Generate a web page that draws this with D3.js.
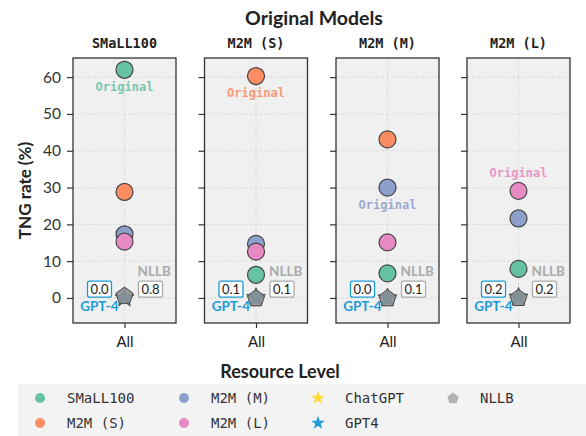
<!DOCTYPE html>
<html>
<head>
<meta charset="utf-8">
<script src="https://cdn.jsdelivr.net/npm/d3@7"></script>
<style>
  body { margin: 0; background: #fff; }
  text { font-family: Lato, "DejaVu Sans", sans-serif; }
  .mono { font-family: "DejaVu Sans Mono", monospace; }
</style>
</head>
<body>
<div id="chart"></div>
<script>
// panels (one per original model) and the series shown in each
var panels = ["SMaLL100", "M2M (S)", "M2M (M)", "M2M (L)"];
var series = ["SMaLL100", "M2M (S)", "M2M (M)", "M2M (L)"];
var seriesColors = ["#66c2a5", "#fc8d62", "#8da0cb", "#e78ac3"];

// TNG rate (%) per series, indexed by panel
var small100 = [62.0, 6.3, 6.7, 7.9];
var m2mS = [28.8, 60.3, 43.1, null];
var m2mM = [17.3, 14.7, 30.0, 21.6];
var m2mL = [15.3, 12.6, 15.1, 29.1];
var nllb = [0.8, 0.1, 0.1, 0.2];
var gpt4 = [0.0, 0.1, 0.0, 0.2];

var yTicks = [0, 10, 20, 30, 40, 50, 60];
var originalBelow = [true, true, true, false];

var seriesValues = [small100, m2mS, m2mM, m2mL];

var W = 586, H = 436;
var svg = d3.select("#chart").append("svg")
  .attr("width", W).attr("height", H);

var panelW = 103, panelTop = 58, panelBottom = 323;
var panelLeft = [73, 204.5, 336, 467];

var y = d3.scaleLinear().domain([-6.8, 65.2]).range([panelBottom, panelTop]);

// main title
svg.append("text").attr("x", 314).attr("y", 25)
  .attr("text-anchor", "middle").style("font-size", "19.5px").style("font-weight", "bold")
  .attr("fill", "#222").text("Original Models");

// y label
svg.append("text")
  .attr("transform", "translate(31," + ((panelTop + panelBottom) / 2) + ") rotate(-90)")
  .attr("text-anchor", "middle").style("font-size", "17px").style("font-weight", "bold")
  .attr("fill", "#222").text("TNG rate (%)");

var star = d3.symbol().type(d3.symbolStar).size(110);
var pent = function(r) {
  var pts = [];
  for (var k = 0; k < 5; k++) {
    var a = -Math.PI / 2 + k * 2 * Math.PI / 5;
    pts.push([r * Math.cos(a), r * Math.sin(a)]);
  }
  return "M" + pts.join("L") + "Z";
};

panels.forEach(function(name, p) {
  var x = d3.scalePoint().domain(["All"]).range([0, panelW]).padding(0.5);
  var g = svg.append("g").attr("transform", "translate(" + panelLeft[p] + ",0)");

  g.append("rect").attr("x", 0).attr("y", panelTop)
    .attr("width", panelW).attr("height", panelBottom - panelTop)
    .attr("fill", "#f0f0f0");

  // grid
  g.selectAll(".hg").data(yTicks).enter().append("line")
    .attr("x1", 0).attr("x2", panelW)
    .attr("y1", function(d) { return y(d); }).attr("y2", function(d) { return y(d); })
    .attr("stroke", "#d6d6d6").attr("stroke-dasharray", "3,2").attr("stroke-width", 0.8);
  g.append("line").attr("x1", x("All")).attr("x2", x("All"))
    .attr("y1", panelTop).attr("y2", panelBottom)
    .attr("stroke", "#d6d6d6").attr("stroke-dasharray", "3,2").attr("stroke-width", 0.8);

  // axes
  var ya = g.append("g").call(d3.axisLeft(y).tickValues(yTicks).tickSize(6).tickPadding(6)
    .tickFormat(p === 0 ? d3.format("d") : ""));
  ya.select(".domain").remove();
  ya.selectAll("line").attr("stroke", "#333").attr("stroke-width", 1.2);
  ya.selectAll("text").style("font-family", "Lato, sans-serif").style("font-size", "15.5px").attr("fill", "#333");

  var xa = g.append("g").attr("transform", "translate(0," + panelBottom + ")")
    .call(d3.axisBottom(x).tickSize(5).tickPadding(8));
  xa.select(".domain").remove();
  xa.selectAll("line").attr("stroke", "#333").attr("stroke-width", 1.2);
  xa.selectAll("text").style("font-family", "Lato, sans-serif").style("font-size", "15px").attr("fill", "#222");

  g.append("rect").attr("x", 0).attr("y", panelTop)
    .attr("width", panelW).attr("height", panelBottom - panelTop)
    .attr("fill", "none").attr("stroke", "#333").attr("stroke-width", 1.3);

  // subplot title
  g.append("text").attr("class", "mono").attr("x", panelW / 2).attr("y", 48)
    .attr("text-anchor", "middle").style("font-size", "13.5px").style("font-weight", "bold")
    .attr("fill", "#222").text(name);

  var cx = x("All");

  // GPT4 star under the NLLB pentagon
  g.append("path").attr("d", star)
    .attr("transform", "translate(" + cx + "," + y(gpt4[p]) + ")")
    .attr("fill", "#1a9bd7").attr("stroke", "#333").attr("stroke-width", 0.8);
  g.append("path").attr("d", pent(9))
    .attr("transform", "translate(" + cx + "," + (y(nllb[p]) + 1) + ")")
    .attr("fill", "#8c9094").attr("fill-opacity", 0.9)
    .attr("stroke", "#444").attr("stroke-width", 1);

  // model circles
  var pts = [];
  seriesValues.forEach(function(vals, s) {
    if (vals[p] !== null) pts.push({s: s, v: vals[p]});
  });
  pts.sort(function(a, b) { return b.v - a.v; });
  g.selectAll(".pt").data(pts).enter().append("circle")
    .attr("cx", cx).attr("cy", function(d) { return y(d.v); })
    .attr("r", 8.5)
    .attr("fill", function(d) { return seriesColors[d.s]; })
    .attr("stroke", "#444").attr("stroke-width", 1.2);

  // "Original" label
  var ov = seriesValues[p][p];
  g.append("text").attr("class", "mono")
    .attr("x", cx).attr("y", originalBelow[p] ? y(ov) + 21 : y(ov) - 14)
    .attr("text-anchor", "middle").style("font-size", "12px").style("font-weight", "bold")
    .attr("fill", seriesColors[p]).attr("fill-opacity", 0.9).text("Original");

  // NLLB label
  g.append("text").attr("x", cx + 13).attr("y", y(6))
    .style("font-size", "13.5px").style("font-weight", "bold")
    .attr("fill", "#aaaaaa").text("NLLB");

  // value boxes
  function box(bx, by, txt, col) {
    g.append("rect").attr("x", bx - 12).attr("y", by - 8).attr("width", 24).attr("height", 16)
      .attr("rx", 2).attr("fill", "#fff").attr("stroke", col).attr("stroke-width", 1.3);
    g.append("text").attr("x", bx).attr("y", by + 4.5).attr("text-anchor", "middle")
      .style("font-size", "13px").attr("fill", "#222").text(txt);
  }
  box(cx - 25, y(2.4), gpt4[p].toFixed(1), "#1a9bd7");
  box(cx + 26, y(2.4), nllb[p].toFixed(1), "#aaaaaa");

  g.append("text").attr("x", cx - 6).attr("y", y(-3.6))
    .attr("text-anchor", "end").style("font-size", "13.5px").style("font-weight", "bold")
    .attr("fill", "#1a9bd7").text("GPT-4");
});

// legend
svg.append("text").attr("x", 280).attr("y", 378)
  .attr("text-anchor", "middle").style("font-size", "18px").style("font-weight", "bold")
  .attr("fill", "#222").text("Resource Level");
svg.append("rect").attr("x", 18).attr("y", 384).attr("width", 568).attr("height", 52)
  .attr("fill", "#f3f3f3");

var legendNames = ["SMaLL100", "M2M (S)", "M2M (M)", "M2M (L)", "ChatGPT", "GPT4", "NLLB"];
var legendColors = ["#66c2a5", "#fc8d62", "#8da0cb", "#e78ac3", "#ffd92f", "#1a9bd7", "#b3b3b3"];
var legendShapes = ["circle", "circle", "circle", "circle", "star", "star", "pent"];
var colX = [40, 184, 318, 453];
var rowY = [398, 423];

legendNames.forEach(function(n, i) {
  var c = Math.floor(i / 2), r = i % 2;
  var lx = colX[c], ly = rowY[r];
  if (legendShapes[i] === "circle") {
    svg.append("circle").attr("cx", lx).attr("cy", ly).attr("r", 5).attr("fill", legendColors[i]);
  } else if (legendShapes[i] === "star") {
    svg.append("path").attr("d", d3.symbol().type(d3.symbolStar).size(60))
      .attr("transform", "translate(" + lx + "," + ly + ")").attr("fill", legendColors[i]);
  } else {
    svg.append("path").attr("d", pent(6))
      .attr("transform", "translate(" + lx + "," + (ly + 0.5) + ")").attr("fill", legendColors[i]);
  }
  svg.append("text").attr("class", "mono").attr("x", colX[c] + 27).attr("y", ly + 5)
    .style("font-size", "14px").attr("fill", "#333").text(n);
});
</script>
</body>
</html>
